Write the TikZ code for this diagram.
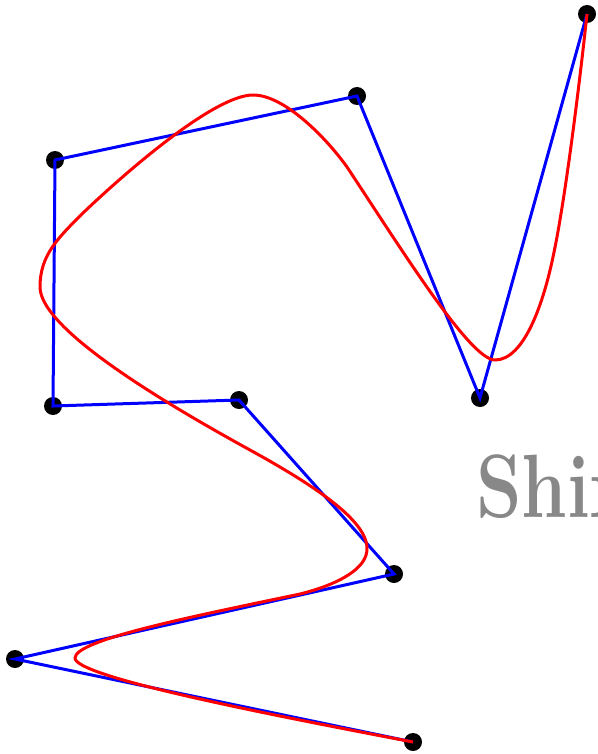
\documentclass[tikz,border=0pt]{standalone}
\usepackage{fontspec}
\definecolor{wmgray}{RGB}{136,136,136}
\tikzset{
  ctrlpt/.style={circle,fill=black,minimum size=18pt,inner sep=0pt},
  polyline/.style={blue,line width=3pt,line join=miter},
  curveline/.style={red,line width=3pt,line join=round}
}
\begin{document}
\begin{tikzpicture}[x=1pt,y=-1pt]
\useasboundingbox (0,0) rectangle (597,754);
\node[anchor=base west,text=wmgray,inner sep=0pt,xscale=0.81,transform shape,font=\fontsize{90}{96}\selectfont\bfseries] (wm) at (476,517) {Shix};
\node[ctrlpt] (p0) at (413,742) {};
\node[ctrlpt] (p1) at (15,659) {};
\node[ctrlpt] (p2) at (394,574) {};
\node[ctrlpt] (p3) at (239,400) {};
\node[ctrlpt] (p4) at (53,406) {};
\node[ctrlpt] (p5) at (55,160) {};
\node[ctrlpt] (p6) at (357,96) {};
\node[ctrlpt] (p7) at (480,398) {};
\node[ctrlpt] (p8) at (587,14) {};
\draw[polyline] (p0.center) -- (p1.center) -- (p2.center) -- (p3.center) -- (p4.center) -- (p5.center) -- (p6.center) -- (p7.center) -- (p8.center);
\draw[curveline] (p0.center) .. controls (250,711) and (75,676) .. (75,658)
 .. controls (75,640) and (190,617) .. (300,594)
 .. controls (340,584) and (367,568) .. (367,549)
 .. controls (368,520) and (310,483) .. (250,450)
 .. controls (170,406) and (40,330) .. (40,287)
 .. controls (40,255) and (58,238) .. (83,213)
 .. controls (128,170) and (215,95) .. (253,95)
 .. controls (285,95) and (327,139) .. (347,167)
 .. controls (400,247) and (470,360) .. (495,360)
 .. controls (525,360) and (544,300) .. (553,257)
 .. controls (566,197) and (581,70) .. (p8.center);
\end{tikzpicture}
\end{document}
